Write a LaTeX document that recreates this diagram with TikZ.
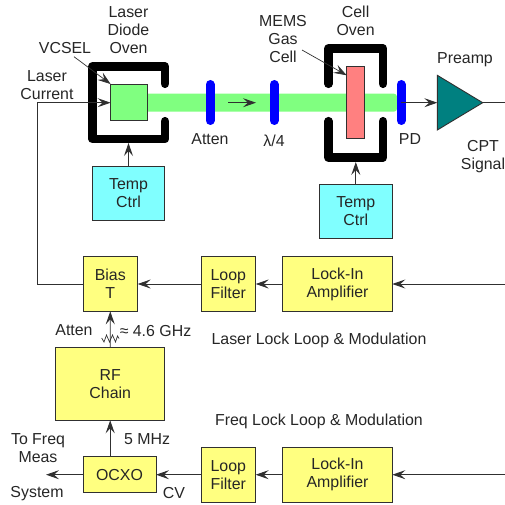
\documentclass[tikz,border=0pt]{standalone}
\usepackage{fontspec}
\setmainfont{Liberation Sans}
\usetikzlibrary{arrows.meta,positioning}
\definecolor{blockyellow}{HTML}{FFFF80}
\definecolor{ctrlcyan}{HTML}{80FFFF}
\definecolor{beamgreen}{HTML}{80FF80}
\definecolor{cellred}{HTML}{FF8080}
\definecolor{ampteal}{HTML}{008080}
\definecolor{wiregray}{HTML}{303030}
\tikzset{
    lbl/.style={align=center,inner sep=0pt,text=black!85,font=\fontsize{15.9}{18}\selectfont},
    blockbox/.style={lbl,draw=wiregray,line width=0.9pt,fill=blockyellow,outer sep=0pt},
    ctrlbox/.style={blockbox,fill=ctrlcyan},
    wire/.style={draw=wiregray,line width=0.9pt},
    sig/.style={wire,-{Stealth[length=13pt,width=9pt,inset=5pt]}},
    ovenwall/.style={line width=8.8pt,line cap=round,line join=round},
    optic/.style={blue,line width=9pt,line cap=round}
}
\begin{document}
\begin{tikzpicture}[x=1pt,y=-1pt]
    \useasboundingbox (0,0) rectangle (505,505);
    % optics
    \fill[beamgreen,rounded corners=3pt] (140,93.7) rectangle (397,111.7);
    \node[blockbox,fill=beamgreen,minimum width=36.4pt,minimum height=36.7pt] (vcsel) at (128.8,102.4) {};
    \node[blockbox,fill=cellred,minimum width=18pt,minimum height=72.4pt] (gascell) at (355.7,102.5) {};
    \draw[ovenwall] (165,83.7) -- (165,66.5) -- (92.5,66.5) -- (92.5,139) -- (165,139) -- (165,121.3);
    \draw[ovenwall] (328.5,83.7) -- (328.5,48.5) -- (383,48.5) -- (383,83.7);
    \draw[ovenwall] (328.5,121.3) -- (328.5,157.5) -- (383,157.5) -- (383,121.3);
    \draw[optic] (210,84.5) -- (210,120.5);
    \draw[optic] (274,84.5) -- (274,120.5);
    \draw[optic] (401,84.5) -- (401,120.5);
    \coordinate (beamA) at (228,102.7);
    \coordinate (beamB) at (256,102.7);
    \draw[sig] (beamA) -- (beamB);

    % preamp
    \coordinate (preampIn) at (437.3,102.7);
    \coordinate (preampOut) at (482.7,102.7);
    \coordinate (pd) at (401,102.7);
    \coordinate (cptEnd) at (505,102.7);
    \draw[wire,fill=ampteal] (437.3,75.3) -- (482.7,102.7) -- (437.3,130) -- cycle;
    \draw[sig] (pd) -- (preampIn);
    \draw[wire] (preampOut) -- (cptEnd);

    % blocks
    \node[ctrlbox,minimum width=72.4pt,minimum height=54.7pt] (tempA) at (128.5,193.3) {Temp\\Ctrl};
    \node[ctrlbox,minimum width=73pt,minimum height=54.7pt] (tempB) at (355.8,211.5) {Temp\\Ctrl};
    \node[blockbox,minimum width=54.7pt,minimum height=54.7pt] (biasT) at (110.3,284) {Bias\\T};
    \node[blockbox,minimum width=54.7pt,minimum height=54.7pt] (loopA) at (228.3,284) {Loop\\Filter};
    \node[blockbox,minimum width=109.6pt,minimum height=54.7pt] (lockA) at (337.5,284) {Lock-In\\Amplifier};
    \node[blockbox,minimum width=109pt,minimum height=73pt] (rfChain) at (110.2,383.8) {RF\\Chain};
    \node[blockbox,minimum width=73pt,minimum height=36.4pt] (ocxo) at (119.5,474.7) {OCXO};
    \node[blockbox,minimum width=54.7pt,minimum height=54.7pt] (loopB) at (228.3,474.7) {Loop\\Filter};
    \node[blockbox,minimum width=109.6pt,minimum height=54.7pt] (lockB) at (337.5,474.7) {Lock-In\\Amplifier};

    % connectors
    \coordinate (ovenA) at (128.5,143);
    \coordinate (ovenB) at (355.8,162);
    \coordinate (lockAin) at (505,284);
    \coordinate (lockBin) at (505,474.7);
    \coordinate (measEnd) at (46,474.7);
    \coordinate (curStart) at (88,102.7);
    \coordinate (vcselPtr) at (74,56.7);
    \coordinate (cellPtr) at (302,50);
    \coordinate (cellTip) at (346.7,75.3);
    \draw[sig] (tempA) -- (ovenA);
    \draw[sig] (tempB) -- (ovenB);
    \draw[sig] (lockAin) -- (lockA);
    \draw[sig] (lockA) -- (loopA);
    \draw[sig] (loopA) -- (biasT);
    \draw[sig] (lockBin) -- (lockB);
    \draw[sig] (lockB) -- (loopB);
    \draw[sig] (loopB) -- (ocxo);
    \draw[sig] (ocxo) -- (measEnd);
    \draw[sig] (ocxo.north -| rfChain) -- (rfChain);
    \draw[sig] (rfChain) -- (biasT);
    \draw[wire] (biasT) -- (37.5,284) -- (37.5,102.7) -- (curStart);
    \draw[sig] (curStart) -- (vcsel.west |- curStart);
    \draw[sig,line width=0.7pt] (vcselPtr) -- (vcsel.north west);
    \draw[sig,line width=0.7pt] (cellPtr) -- (cellTip);
    % rf attenuator
    \draw[wire,line width=0.7pt] (101.7,338) -- (104,342) -- (106.5,335) -- (109.5,342)
        -- (112.5,335) -- (115.5,342) -- (117.5,336) -- (119,338.5);

    % labels
    \node[lbl] (diodeLbl) at (128.5,30) {Laser\\Diode\\Oven};
    \node[lbl] (vcselLbl) at (65,48) {VCSEL};
    \node[lbl] (currentLbl) at (47,85.5) {Laser\\Current};
    \node[lbl] (attenLbl) at (210,139) {Atten};
    \node[lbl] (waveLbl) at (274,141) {λ/4};
    \node[lbl] (memsLbl) at (283,39.5) {MEMS\\Gas\\Cell};
    \node[lbl] (cellLbl) at (355.6,21) {Cell\\Oven};
    \node[lbl] (pdLbl) at (410,139) {PD};
    \node[lbl] (preampLbl) at (465,59.5) {Preamp};
    \node[lbl] (cptLbl) at (483,156.5) {CPT\\Signal};
    \node[lbl] (rfAttenLbl) at (74,330) {Atten};
    \node[lbl] (ghzLbl) at (155.5,331) {≈ 4.6 GHz};
    \node[lbl] (laserLoopLbl) at (319,340) {Laser Lock Loop \& Modulation};
    \node[lbl] (freqLoopLbl) at (319,421.5) {Freq Lock Loop \& Modulation};
    \node[lbl] (toFreqLbl) at (38,448.5) {To Freq\\Meas};
    \node[lbl] (systemLbl) at (37,494) {System};
    \node[lbl] (cvLbl) at (174,493) {CV};
    \node[lbl] (mhzLbl) at (147,439) {5 MHz};
\end{tikzpicture}
\end{document}
